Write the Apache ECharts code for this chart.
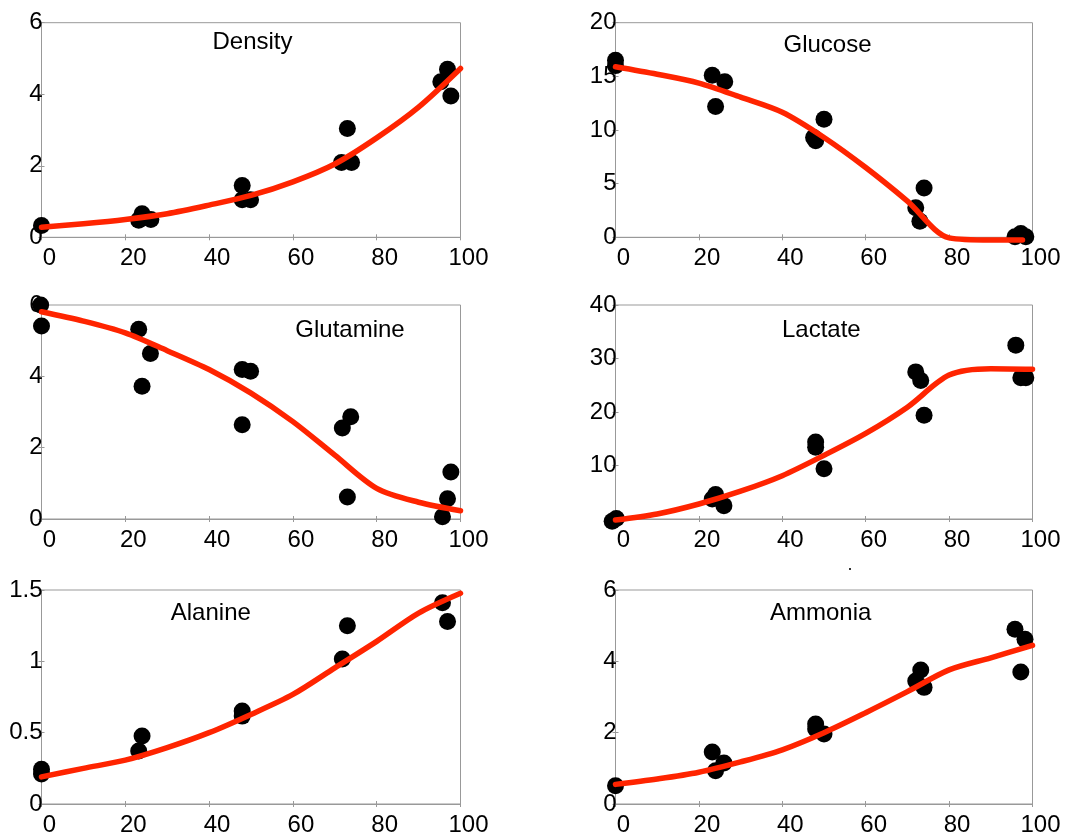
<!DOCTYPE html>
<html>
<head>
<meta charset="utf-8">
<script src="https://cdn.jsdelivr.net/npm/echarts@6/dist/echarts.min.js"></script>
<style>html,body{margin:0;padding:0;background:#fff}#c{width:1067px;height:837px}</style>
</head>
<body>
<div id="c"></div>
<script>
// ---- Panel titles ----
const titles = ['Density', 'Glucose', 'Glutamine', 'Lactate', 'Alanine', 'Ammonia'];

// ---- Measured points (x = time, y = value) ----
const densityX = [0, 23.2, 24, 26.1, 47.9, 47.9, 49.9, 71.6, 73.0, 74.0, 95.3, 96.9, 97.7];
const densityY = [0.33, 0.48, 0.66, 0.5, 1.45, 1.05, 1.05, 2.09, 3.04, 2.09, 4.35, 4.70, 3.95];

const glucoseX = [0, 0, 23.2, 26.2, 24, 47.5, 48, 50, 72, 74, 73, 95.8, 97.2, 98.4];
const glucoseY = [16.5, 16.0, 15.1, 14.5, 12.2, 9.3, 9.0, 11.0, 2.75, 4.6, 1.5, 0.05, 0.35, 0.05];

const glutamineX = [-0.2, 0, 23.2, 26, 24, 47.9, 49.9, 47.9, 71.8, 73.8, 73, 95.7, 96.9, 97.7];
const glutamineY = [6.0, 5.41, 5.32, 4.64, 3.72, 4.19, 4.14, 2.64, 2.55, 2.87, 0.62, 0.06, 0.57, 1.32];

const lactateX = [-0.8, 0.2, 23.2, 24, 26, 48, 48, 50, 72, 73.2, 74, 96, 97.2, 98.4];
const lactateY = [-0.4, 0.1, 3.75, 4.56, 2.5, 14.4, 13.4, 9.4, 27.5, 25.9, 19.4, 32.5, 26.4, 26.4];

const alanineX = [0, 0, 23.2, 24, 47.9, 47.9, 71.8, 73, 95.7, 96.9];
const alanineY = [0.244, 0.21, 0.372, 0.477, 0.651, 0.616, 1.017, 1.25, 1.41, 1.28];

const ammoniaX = [0, 23.2, 24, 26, 48, 48, 50, 72, 73.2, 74, 95.8, 98.2, 97.2];
const ammoniaY = [0.51, 1.46, 0.93, 1.15, 2.24, 2.1, 1.96, 3.45, 3.76, 3.27, 4.9, 4.62, 3.7];

// ---- Fitted curves ----
const densityFitX = [0, 10, 20, 30, 40, 50, 60, 70, 80, 90, 100];
const densityFitY = [0.28, 0.38, 0.5, 0.66, 0.9, 1.17, 1.55, 2.05, 2.78, 3.64, 4.72];

const glucoseFitX = [0, 10, 20, 30, 40, 50, 60, 70, 80, 90, 97.6];
const glucoseFitY = [15.9, 15.2, 14.37, 13.06, 11.65, 9.3, 6.5, 3.37, -0.05, -0.25, -0.25];

const glutamineFitX = [0, 10, 20, 30, 40, 50, 60, 70, 80, 90, 100];
const glutamineFitY = [5.81, 5.55, 5.22, 4.72, 4.19, 3.53, 2.73, 1.79, 0.86, 0.47, 0.23];

const lactateFitX = [0, 10, 20, 30, 40, 50, 60, 70, 80, 90, 100];
const lactateFitY = [-0.2, 0.94, 2.8, 5.2, 8.1, 11.9, 16.0, 20.9, 26.9, 28.1, 28.0];

const alanineFitX = [0, 10, 20, 30, 40, 50, 60, 70, 80, 90, 100];
const alanineFitY = [0.19, 0.25, 0.307, 0.395, 0.5, 0.628, 0.768, 0.954, 1.14, 1.338, 1.477];

const ammoniaFitX = [0, 10, 20, 30, 40, 50, 60, 70, 80, 90, 100];
const ammoniaFitY = [0.55, 0.7, 0.89, 1.18, 1.52, 2.0, 2.56, 3.15, 3.76, 4.1, 4.45];

// ---- Axis ranges ----
const xRange = [0, 100, 20];
const yRanges = [[0, 6, 2], [0, 20, 5], [0, 6, 2], [0, 40, 10], [0, 1.5, 0.5], [0, 6, 2]];
const showYMin = [true, true, true, false, true, true];

const panels = [
  [densityX, densityY, densityFitX, densityFitY],
  [glucoseX, glucoseY, glucoseFitX, glucoseFitY],
  [glutamineX, glutamineY, glutamineFitX, glutamineFitY],
  [lactateX, lactateY, lactateFitX, lactateFitY],
  [alanineX, alanineY, alanineFitX, alanineFitY],
  [ammoniaX, ammoniaY, ammoniaFitX, ammoniaFitY]
];

const gridBoxes = [
  {left: 41.5, top: 22.7, width: 419, height: 214.6},
  {left: 615.5, top: 22.7, width: 417, height: 214.6},
  {left: 41.5, top: 305, width: 419, height: 214},
  {left: 615.5, top: 305, width: 417, height: 214},
  {left: 41.5, top: 590, width: 419, height: 215},
  {left: 615.5, top: 590, width: 417, height: 215}
];
const titlePos = [[252.5, 42.5], [827.5, 45.8], [350, 330.5], [821.3, 330], [210.8, 613.8], [820.7, 613.8]];

const FONT = '"Liberation Sans", Arial, Helvetica, sans-serif';
const AX = '#999';

const grid = [], xAxis = [], yAxis = [], series = [], graphic = [];
panels.forEach((p, i) => {
  grid.push(Object.assign({show: true, borderColor: AX, borderWidth: 1, backgroundColor: 'transparent'}, gridBoxes[i]));
  const tickStyle = {show: true, inside: true, length: 3, lineStyle: {color: AX}};
  xAxis.push({
    gridIndex: i, type: 'value', min: xRange[0], max: xRange[1], interval: xRange[2], position: 'bottom',
    axisLine: {show: true, lineStyle: {color: AX, width: 1}},
    axisTick: tickStyle, splitLine: {show: false},
    axisLabel: {color: '#000', fontFamily: FONT, fontSize: 24, margin: 9, padding: [0, 0, 0, 16]}
  });
  xAxis.push({
    gridIndex: i, type: 'value', min: xRange[0], max: xRange[1], interval: xRange[2], position: 'top',
    axisLine: {show: false}, axisTick: tickStyle, splitLine: {show: false}, axisLabel: {show: false}
  });
  const yr = yRanges[i];
  yAxis.push({
    gridIndex: i, type: 'value', min: yr[0], max: yr[1], interval: yr[2], position: 'left',
    axisLine: {show: true, lineStyle: {color: AX, width: 1}},
    axisTick: tickStyle, splitLine: {show: false},
    axisLabel: {color: '#000', fontFamily: FONT, fontSize: 24, margin: -1, showMinLabel: showYMin[i]}
  });
  yAxis.push({
    gridIndex: i, type: 'value', min: yr[0], max: yr[1], interval: yr[2], position: 'right',
    axisLine: {show: false}, axisTick: tickStyle, splitLine: {show: false}, axisLabel: {show: false}
  });
  const pts = p[0].map((x, k) => [x, p[1][k]]);
  const fit = p[2].map((x, k) => [x, p[3][k]]);
  series.push({
    type: 'scatter', xAxisIndex: 2 * i, yAxisIndex: 2 * i, data: pts, symbol: 'circle', symbolSize: 17,
    itemStyle: {color: '#000', opacity: 1}, clip: false, z: 2, silent: true
  });
  series.push({
    type: 'line', xAxisIndex: 2 * i, yAxisIndex: 2 * i, data: fit, smooth: 0.3,
    showSymbol: false, symbol: 'none',
    lineStyle: {color: '#ff2400', width: 5.5, cap: 'round', join: 'round'}, clip: false, z: 3, silent: true
  });
  graphic.push({
    type: 'text', x: titlePos[i][0], y: titlePos[i][1], z: 10,
    style: {text: titles[i], fill: '#000', font: '24px ' + FONT, textAlign: 'center', textVerticalAlign: 'middle'}
  });
});
graphic.push({type: 'rect', shape: {x: 849, y: 568, width: 2, height: 2}, style: {fill: '#333'}});

const chart = echarts.init(document.getElementById('c'), null, {renderer: 'canvas'});
chart.setOption({animation: false, grid, xAxis, yAxis, series, graphic});
</script>
</body>
</html>
